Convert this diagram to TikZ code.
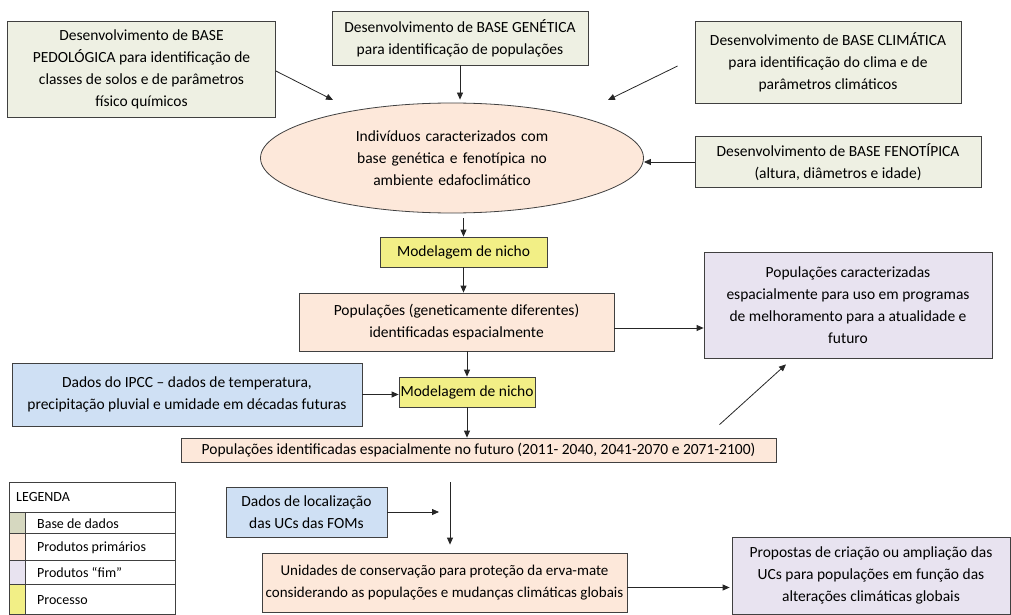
\documentclass[tikz,border=0pt]{standalone}
\usepackage{fontspec}
\setmainfont{Carlito}
\usetikzlibrary{shapes.geometric,arrows.meta}
\definecolor{baseclr}{HTML}{EEF0E3}
\definecolor{baseleg}{HTML}{D6D8C0}
\definecolor{primclr}{HTML}{FDE8DA}
\definecolor{fimclr}{HTML}{E8E3F0}
\definecolor{procclr}{HTML}{F2EF86}
\definecolor{dadosclr}{HTML}{CFE0F4}

\begin{document}
\begin{tikzpicture}[x=1pt,y=-1pt,
  box/.style={draw=black!75,line width=0.8pt,align=center,inner sep=0pt,
    font=\fontsize{15.5}{22}\selectfont},
  base/.style={box,fill=baseclr},
  prim/.style={box,fill=primclr},
  fim/.style={box,fill=fimclr},
  proc/.style={box,fill=procclr},
  dados/.style={box,fill=dadosclr},
  legtxt/.style={anchor=west,inner sep=0pt,font=\fontsize{14}{17}\selectfont},
  arr/.style={-{Triangle[length=7pt,width=6pt]},line width=0.8pt,black!85}]
  \useasboundingbox (0,0) rectangle (1011,615);

  \node[base,minimum width=268pt,minimum height=96pt] (ped) at (141.5,69)
    {Desenvolvimento de BASE\\PEDOLÓGICA para identificação de\\classes de solos e de parâmetros\\físico químicos};
  \node[base,minimum width=256pt,minimum height=54pt] (gen) at (460,38)
    {Desenvolvimento de BASE GENÉTICA\\para identificação de populações};
  \node[base,minimum width=266pt,minimum height=82pt] (cli) at (828,62)
    {Desenvolvimento de BASE CLIMÁTICA\\para identificação do clima e de\\parâmetros climáticos};
  \node[base,minimum width=286pt,minimum height=51pt] (fen) at (838,162)
    {Desenvolvimento de BASE FENOTÍPICA\\(altura, diâmetros e idade)};
  \node[prim,ellipse,minimum width=383pt,minimum height=110pt,text width=240pt] (ind) at (452,158)
    {Indivíduos caracterizados com\\base genética e fenotípica no\\ambiente edafoclimático};
  \node[proc,minimum width=167pt,minimum height=30pt] (mod1) at (463.5,252) {Modelagem de nicho};
  \node[prim,minimum width=315pt,minimum height=58pt] (pop) at (456.5,322)
    {Populações (geneticamente diferentes)\\identificadas espacialmente};
  \node[fim,minimum width=288pt,minimum height=106pt] (fim1) at (848,305)
    {Populações caracterizadas\\espacialmente para uso em programas\\de melhoramento para a atualidade e\\futuro};
  \node[dados,minimum width=350pt,minimum height=63pt] (ipcc) at (187,394.5)
    {Dados do IPCC -- dados de temperatura,\\precipitação pluvial e umidade em décadas futuras};
  \node[proc,minimum width=136pt,minimum height=30pt] (mod2) at (467,392) {Modelagem de nicho};
  \node[prim,minimum width=595pt,minimum height=24pt] (fut) at (478.5,450)
    {Populações identificadas espacialmente no futuro (2011- 2040, 2041-2070 e 2071-2100)};
  \node[dados,minimum width=161pt,minimum height=50pt] (loc) at (306.5,512)
    {Dados de localização\\das UCs das FOMs};
  \node[prim,minimum width=365pt,minimum height=59pt,font=\fontsize{15}{22}\selectfont] (uc) at (444.5,582.5)
    {Unidades de conservação para proteção da erva-mate\\considerando as populações e mudanças climáticas globais};
  \node[fim,minimum width=278pt,minimum height=77pt] (fim2) at (871,575.5)
    {Propostas de criação ou ampliação das\\UCs para populações em função das\\alterações climáticas globais};
  \coordinate (join) at (450,512);

  \draw[arr] ([yshift=-2pt]ped.east) -- ([shift={(-119,-58)}]ind.center);
  \draw[arr,shorten >=3pt] (gen.south) -- (gen.south |- ind.north);
  \draw[arr] ([xshift=-17pt,yshift=-4pt]cli.west) -- ([shift={(156,-58)}]ind.center);
  \draw[arr] (fen.west) -- (fen.west -| ind.east);
  \draw[arr,shorten <=5pt] (ind.south -| mod1.north) -- (mod1.north);
  \draw[arr] (mod1.south) -- (mod1.south |- pop.north);
  \draw[arr] ([yshift=-6pt]pop.east) -- ([yshift=-6pt]pop.east -| fim1.west);
  \draw[arr] (pop.south -| mod2.north) -- (mod2.north);
  \draw[arr] (ipcc.east) -- (ipcc.east -| mod2.west);
  \draw[arr] (mod2.south) -- (mod2.south |- fut.north);
  \draw[arr] ([shift={(241,-13)}]fut.north) -- ([shift={(-62,6)}]fim1.south);
  \draw[arr,shorten <=20pt,shorten >=8pt] (join |- fut.south) -- (join |- uc.north);
  \draw[arr,shorten >=11pt] (loc.east) -- (join);
  \draw[arr,shorten >=2pt] ([yshift=-5pt]uc.east) -- ([yshift=-5pt]uc.east -| fim2.west);

  \foreach \ya/\yb/\c in {512/533/baseleg,533/560/primclr,560/584/fimclr,584/614/procclr}
    \fill[\c] (9,\ya) rectangle (25,\yb);
  \draw[line width=0.8pt,black!75] (9,482) rectangle (175,614);
  \foreach \ya in {512,533,560,584}
    \draw[line width=0.8pt,black!75] (9,\ya) -- (175,\ya);
  \draw[line width=0.8pt,black!75] (25,512) -- (25,614);
  \node[legtxt] (leg) at (16,497) {LEGENDA};
  \node[legtxt] (legbase) at (37,524) {Base de dados};
  \node[legtxt] (legprim) at (37,548) {Produtos primários};
  \node[legtxt] (legfim) at (37,572) {Produtos ``fim''};
  \node[legtxt] (legproc) at (37,600) {Processo};
\end{tikzpicture}
\end{document}
